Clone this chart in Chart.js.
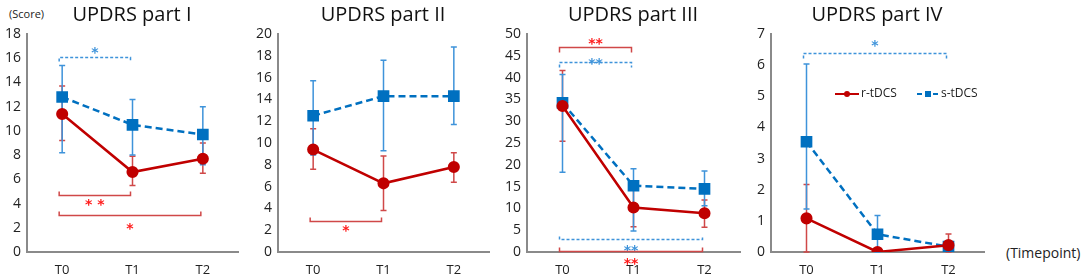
<!DOCTYPE html>
<html>
<head>
<meta charset="utf-8">
<script src="https://cdn.jsdelivr.net/npm/chart.js@4.4.1/dist/chart.umd.min.js"></script>
<style>
  html, body { margin: 0; padding: 0; background: #fff; }
  #wrap { position: relative; width: 1084px; height: 278px; overflow: hidden; font-family: 'Open Sans', sans-serif; }
  canvas { position: absolute; top: 0; }
  .ttl { position: absolute; top: 0; font-size: 20px; line-height: 28px; color: #111; white-space: nowrap; transform: translateX(-50%); }
  .lbl { position: absolute; color: #222; white-space: nowrap; }
</style>
</head>
<body>
<div id="wrap">
  <div class="lbl" style="left:9px; top:6px; font-size:11px;">(Score)</div>
  <div class="lbl" style="left:1006px; top:243px; font-size:14px;">(Timepoint)</div>
</div>
<script>
// data
const timepoints = ['T0', 'T1', 'T2'];
const panelTitles = ['UPDRS part I', 'UPDRS part II', 'UPDRS part III', 'UPDRS part IV'];
const yMax = [18, 20, 50, 7];
const yStep = [2, 2, 5, 1];

// r-tDCS mean, lower / upper end of error bar
const rMean = [[11.4, 6.6, 7.7], [9.4, 6.3, 7.8], [33.5, 10.2, 8.9], [1.08, 0, 0.22]];
const rLow  = [[9.2, 5.5, 6.5], [7.6, 3.8, 6.4], [25.4, 5.8, 5.7], [0, 0, 0]];
const rHigh = [[13.7, 7.9, 9.0], [11.3, 8.8, 9.1], [41.6, 14.5, 11.9], [2.17, 0, 0.58]];

// s-tDCS
const sMean = [[12.8, 10.5, 9.7], [12.5, 14.3, 14.3], [34.2, 15.2, 14.5], [3.54, 0.57, 0.17]];
const sLow  = [[8.2, 8.0, 7.2], [8.9, 9.3, 11.7], [18.3, 4.8, 10.6], [1.38, 0, 0.05]];
const sHigh = [[15.4, 12.6, 12.0], [15.7, 17.6, 18.8], [40.7, 19.1, 18.6], [6.04, 1.17, 0.32]];

// significance brackets (level in score units)
const brackets = [
  { panel: 0, series: 's', from: 0, to: 1, level: 16.1, stars: '*' },
  { panel: 0, series: 'r', from: 0, to: 1, level: 4.7, stars: '* *' },
  { panel: 0, series: 'r', from: 0, to: 2, level: 3.05, stars: '*' },
  { panel: 1, series: 'r', from: 0, to: 1, level: 2.85, stars: '*' },
  { panel: 2, series: 'r', from: 0, to: 1, level: 47.0, stars: '**' },
  { panel: 2, series: 's', from: 0, to: 1, level: 43.6, stars: '**' },
  { panel: 2, series: 's', from: 0, to: 2, level: 3.0, stars: '**' },
  { panel: 2, series: 'r', from: 0, to: 2, level: 0.25, stars: '**' },
  { panel: 3, series: 's', from: 0, to: 2, level: 6.39, stars: '*' }
];
// tick direction/length and star offset (px) for each bracket above
const bracketLook = [
  { tick: 4, star: -7 }, { tick: -4, star: 7 }, { tick: -4, star: 11 },
  { tick: -4, star: 7 },
  { tick: 5, star: -6 }, { tick: 5, star: -1 }, { tick: -3, star: 9 }, { tick: -4, star: 10 },
  { tick: 5, star: -10 }
];

// layout of the four panels
const panelLeft = [0, 250, 498, 742];
const axisWidth = [27, 28, 29, 29];
const plotWidth = [220, 220, 222, 222];

const RED = '#c00000', BLUE = '#0070c0';
const RED_ERR = '#d04848', BLUE_ERR = '#3e93da';
const RED_STAR = '#ff1a1a', BLUE_STAR = '#3e93da';

const errorBars = {
  id: 'errorBars',
  beforeDatasetsDraw(chart) {
    const ctx = chart.ctx, y = chart.scales.y;
    chart.data.datasets.forEach((ds, i) => {
      const meta = chart.getDatasetMeta(i);
      ctx.save();
      ctx.strokeStyle = ds.errColor;
      ctx.lineWidth = 1.5;
      meta.data.forEach((pt, j) => {
        const top = y.getPixelForValue(ds.errHigh[j]);
        const bot = y.getPixelForValue(ds.errLow[j]);
        if (Math.abs(bot - top) < 1) return;
        ctx.beginPath();
        ctx.moveTo(pt.x, top); ctx.lineTo(pt.x, bot);
        ctx.moveTo(pt.x - 3, top); ctx.lineTo(pt.x + 3, top);
        ctx.moveTo(pt.x - 3, bot); ctx.lineTo(pt.x + 3, bot);
        ctx.stroke();
      });
      ctx.restore();
    });
  },
  afterDraw(chart, args, opts) {
    const ctx = chart.ctx, y = chart.scales.y, x = chart.scales.x;
    brackets.forEach((b, k) => {
      if (b.panel !== opts.panel) return;
      const look = bracketLook[k];
      const x0 = x.getPixelForValue(b.from) - 3;
      const x1 = x.getPixelForValue(b.to) - 2;
      const yy = Math.round(y.getPixelForValue(b.level)) + 0.5;
      ctx.save();
      if (b.series === 's') {
        ctx.strokeStyle = BLUE_STAR; ctx.setLineDash([3, 2]);
      } else {
        ctx.strokeStyle = RED_ERR;
      }
      ctx.lineWidth = 1.5;
      ctx.beginPath();
      ctx.moveTo(x0, yy + look.tick); ctx.lineTo(x0, yy);
      ctx.lineTo(x1, yy); ctx.lineTo(x1, yy + look.tick);
      ctx.stroke();
      ctx.setLineDash([]);
      ctx.fillStyle = b.series === 's' ? BLUE_STAR : RED_STAR;
      ctx.font = 'bold 14px "DejaVu Sans"';
      ctx.textAlign = 'center';
      ctx.textBaseline = 'middle';
      ctx.fillText(b.stars, (x0 + x1) / 2, yy + look.star + 3);
      ctx.restore();
    });
    if (opts.legend) {
      const lx = chart.chartArea.left + 64, ly = 94;
      ctx.save();
      ctx.lineWidth = 2;
      ctx.strokeStyle = RED; ctx.fillStyle = RED;
      ctx.beginPath(); ctx.moveTo(lx, ly); ctx.lineTo(lx + 24, ly); ctx.stroke();
      ctx.beginPath(); ctx.arc(lx + 12, ly, 3, 0, Math.PI * 2); ctx.fill();
      ctx.strokeStyle = BLUE; ctx.fillStyle = BLUE;
      ctx.setLineDash([5, 3]);
      ctx.beginPath(); ctx.moveTo(lx + 82, ly); ctx.lineTo(lx + 104, ly); ctx.stroke();
      ctx.setLineDash([]);
      ctx.fillRect(lx + 90, ly - 3, 6, 6);
      ctx.fillStyle = '#222';
      ctx.font = '12px "Open Sans"';
      ctx.textBaseline = 'middle';
      ctx.fillText('r-tDCS', lx + 26, ly);
      ctx.fillText('s-tDCS', lx + 106, ly);
      ctx.restore();
    }
  }
};

const wrap = document.getElementById('wrap');

for (let p = 0; p < 4; p++) {
  const cv = document.createElement('canvas');
  const w = axisWidth[p] + plotWidth[p];
  cv.width = w; cv.height = 278;
  cv.style.left = panelLeft[p] + 'px';
  cv.style.width = w + 'px'; cv.style.height = '278px';
  wrap.appendChild(cv);

  const t = document.createElement('div');
  t.className = 'ttl';
  t.textContent = panelTitles[p];
  t.style.left = (panelLeft[p] + axisWidth[p] + plotWidth[p] / 2 - 5) + 'px';
  wrap.appendChild(t);

  new Chart(cv, {
    type: 'line',
    data: {
      labels: timepoints,
      datasets: [{
        label: 'r-tDCS',
        data: rMean[p],
        errLow: rLow[p], errHigh: rHigh[p], errColor: RED_ERR,
        borderColor: RED, backgroundColor: RED,
        borderWidth: 2.5,
        pointStyle: 'circle', pointRadius: 4.8,
        tension: 0
      }, {
        label: 's-tDCS',
        data: sMean[p],
        errLow: sLow[p], errHigh: sHigh[p], errColor: BLUE_ERR,
        borderColor: BLUE, backgroundColor: BLUE,
        borderWidth: 2.5, borderDash: [7, 4],
        pointStyle: 'rect', pointRadius: 6.5,
        tension: 0
      }]
    },
    options: {
      responsive: false,
      animation: false,
      layout: { padding: { top: 34, right: 0, left: 0, bottom: 0 } },
      plugins: {
        legend: { display: false },
        tooltip: { enabled: false },
        errorBars: { panel: p, legend: p === 3 }
      },
      scales: {
        x: {
          offset: true,
          grid: { display: false, drawTicks: false },
          border: { display: true, color: '#8a8a8a', width: 2 },
          ticks: { font: { family: 'Open Sans', size: 13 }, color: '#222', padding: 10 },
          afterFit: s => { s.height = 26; }
        },
        y: {
          min: 0, max: yMax[p],
          grid: { display: false, drawTicks: false },
          border: { display: true, color: '#8a8a8a', width: 2 },
          ticks: { stepSize: yStep[p], font: { family: 'Open Sans', size: 14 }, color: '#222', padding: 6 },
          afterFit: s => { s.width = axisWidth[p]; }
        }
      }
    },
    plugins: [errorBars]
  });
}
</script>
</body>
</html>
